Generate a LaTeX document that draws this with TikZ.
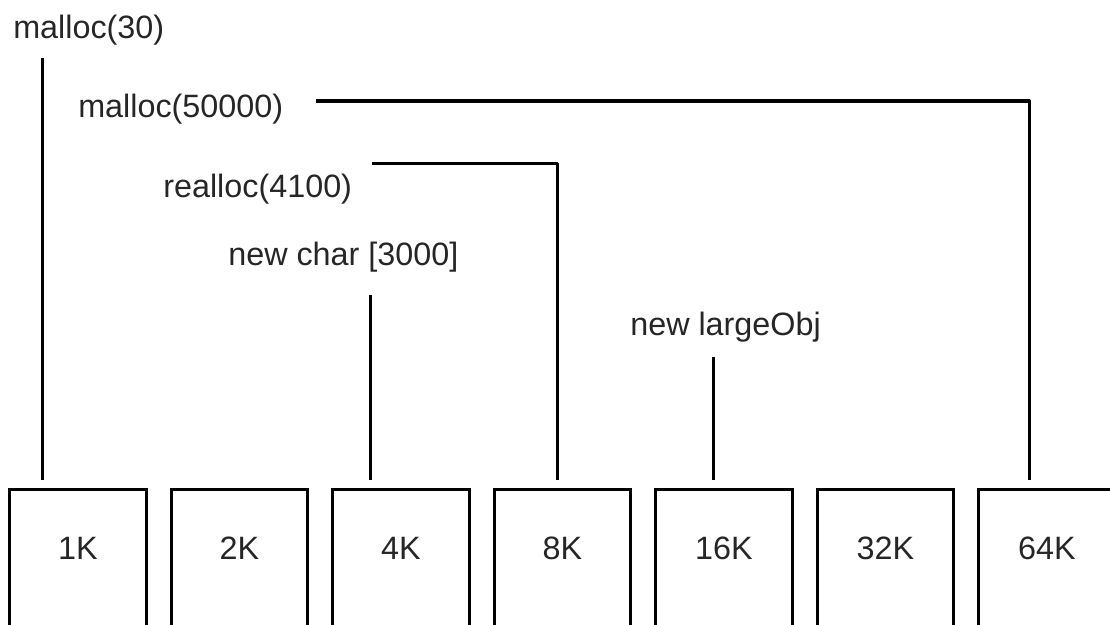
\documentclass[tikz,border=0pt]{standalone}
\usepackage{fontspec}
\setmainfont{Liberation Sans}
\usepackage{tikz}
\usetikzlibrary{arrows.meta,calc,positioning}

\begin{document}
\begin{tikzpicture}[x=0.025cm,y=-0.025cm,
    txt/.style={inner sep=0pt,anchor=base west,text=black!85,font=\fontsize{23}{27}\selectfont},
    slot/.style={draw,line width=0.075cm,anchor=north,minimum width=3.4cm,
      text height=0.525cm,text depth=2.5cm,inner ysep=1.225cm,
      text=black!85,font=\fontsize{23}{27}\selectfont},
    wire/.style={line width=0.075cm,line join=round}]
  \useasboundingbox (0,0) rectangle (1110,624);
  % Size classes
  \foreach \s [count=\i from 0] in {1,2,4,8,16,32,64}
    \node[slot] (b\s) at (78+161.5*\i,488) {\s K};
  % Calls
  \node[txt] (m30) at (13,39) {malloc(30)};
  \node[txt] (m50) at (78,117) {malloc(50000)};
  \node[txt] (r41) at (163,197) {realloc(4100)};
  \node[txt] (nc) at (228,265) {new char [3000]};
  \node[txt] (nl) at (630,335) {new largeObj};
  % Line ends
  \coordinate (s30) at (42,58);
  \coordinate (s50) at (316,101);
  \coordinate (k50) at (1029,101);
  \coordinate (s41) at (372,163);
  \coordinate (k41) at (557,163);
  \coordinate (snc) at (370,295);
  \coordinate (snl) at (713,357);
  % Lines
  \draw[wire,shorten >=0.19cm] (s30) -- (s30 |- b1.north);
  \draw[wire,shorten >=0.19cm] (s50) -- (k50) -- (k50 |- b64.north);
  \draw[wire,shorten >=0.19cm] (s41) -- (k41) -- (k41 |- b8.north);
  \draw[wire,shorten >=0.19cm] (snc) -- (snc |- b4.north);
  \draw[wire,shorten >=0.19cm] (snl) -- (snl |- b16.north);
\end{tikzpicture}
\end{document}
